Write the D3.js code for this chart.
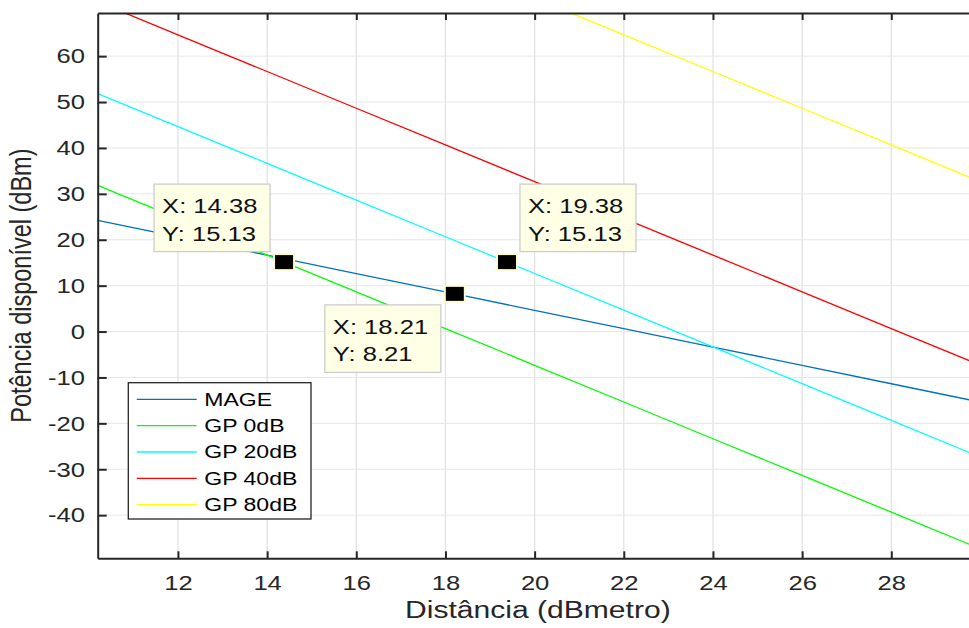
<!DOCTYPE html>
<html>
<head>
<meta charset="utf-8">
<script src="https://cdn.jsdelivr.net/npm/d3@7"></script>
<style>
  body { margin: 0; background: #fff; }
  svg text { font-family: "Liberation Sans", Arial, Helvetica, sans-serif; }
</style>
</head>
<body>
<svg id="chart" width="969" height="628"></svg>
<script>
// valores (distancia em dBmetro, potencia em dBm)
var distancia = [10.2, 12, 14, 16, 18, 20, 22, 24, 26, 28, 29.8];
var mage    = [24.23, 20.63, 16.63, 12.63, 8.63, 4.63, 0.63, -3.37, -7.37, -11.37, -14.97];
var gp0dB   = [31.85, 24.65, 16.65, 8.65, 0.65, -7.35, -15.35, -23.35, -31.35, -39.35, -46.55];
var gp20dB  = [51.85, 44.65, 36.65, 28.65, 20.65, 12.65, 4.65, -3.35, -11.35, -19.35, -26.55];
var gp40dB  = [71.85, 64.65, 56.65, 48.65, 40.65, 32.65, 24.65, 16.65, 8.65, 0.65, -6.55];
var gp80dB  = [111.85, 104.65, 96.65, 88.65, 80.65, 72.65, 64.65, 56.65, 48.65, 40.65, 33.45];

var seriesNames = ["MAGE", "GP 0dB", "GP 20dB", "GP 40dB", "GP 80dB"];
var seriesValues = [mage, gp0dB, gp20dB, gp40dB, gp80dB];
var seriesColors = ["#0072bd", "#00ff00", "#00ffff", "#ff0000", "#ffff00"];

var xTicks = [12, 14, 16, 18, 20, 22, 24, 26, 28];
var yTicks = [-40, -30, -20, -10, 0, 10, 20, 30, 40, 50, 60];

// data tips
var tipX = [14.38, 18.21, 19.38];
var tipY = [15.13, 8.21, 15.13];
var tipSide = ["up-left", "down-left", "up-right"];

var svg = d3.select("#chart");
var plotLeft = 97.7, plotRight = 972, plotTop = 13, plotBottom = 558.3;
var sx = 1.28; // o original esta esticado na horizontal
var axisColor = "#262626";

var x = d3.scaleLinear().domain([10.2, 29.81]).range([plotLeft, plotRight]);
var y = d3.scaleLinear().domain([-49.4, 69.4]).range([plotBottom, plotTop]);

// grade
var grid = svg.append("g").attr("class", "grid");
grid.selectAll("line.gx")
  .data(xTicks)
  .enter().append("line")
  .attr("class", "gx")
  .attr("x1", function (d) { return x(d); })
  .attr("x2", function (d) { return x(d); })
  .attr("y1", plotTop)
  .attr("y2", plotBottom)
  .attr("stroke", "#e2e2e2")
  .attr("stroke-width", 1.3);
grid.selectAll("line.gy")
  .data(yTicks)
  .enter().append("line")
  .attr("class", "gy")
  .attr("x1", plotLeft)
  .attr("x2", plotRight)
  .attr("y1", function (d) { return y(d); })
  .attr("y2", function (d) { return y(d); })
  .attr("stroke", "#e6e6e6")
  .attr("stroke-width", 1);

svg.append("clipPath")
  .attr("id", "clip")
  .append("rect")
  .attr("x", plotLeft)
  .attr("y", plotTop)
  .attr("width", plotRight - plotLeft)
  .attr("height", plotBottom - plotTop);

var line = d3.line()
  .x(function (d, i) { return x(distancia[i]); })
  .y(function (d) { return y(d); });

svg.append("g")
  .attr("clip-path", "url(#clip)")
  .selectAll("path")
  .data(seriesValues)
  .enter().append("path")
  .attr("d", line)
  .attr("fill", "none")
  .attr("stroke", function (d, i) { return seriesColors[i]; })
  .attr("stroke-width", 1.3);

// eixos
var fmt = function (d) { return String(d); };

var xAxis = svg.append("g")
  .attr("transform", "translate(0," + plotBottom + ")")
  .call(d3.axisBottom(x).tickValues(xTicks).tickFormat(fmt).tickSize(-7).tickSizeOuter(0).tickPadding(17.5));

var xAxisTop = svg.append("g")
  .attr("transform", "translate(0," + plotTop + ")")
  .call(d3.axisTop(x).tickValues(xTicks).tickFormat("").tickSize(-7).tickSizeOuter(0));

var yAxis = svg.append("g")
  .attr("transform", "translate(" + plotLeft + ",0)")
  .call(d3.axisLeft(y).tickValues(yTicks).tickFormat(fmt).tickSize(-9).tickSizeOuter(0));

[xAxis, xAxisTop, yAxis].forEach(function (g) {
  g.select(".domain").attr("stroke", axisColor).attr("stroke-width", 2);
  g.selectAll(".tick line").attr("stroke", axisColor).attr("stroke-width", 2);
  g.attr("font-family", null).attr("font-size", null);
});

xAxis.selectAll(".tick text")
  .attr("fill", axisColor)
  .style("font-size", "20px")
  .attr("transform", "scale(" + sx + ",1)");

yAxis.selectAll(".tick text")
  .attr("fill", axisColor)
  .style("font-size", "20px")
  .attr("x", -12.7 / sx)
  .attr("dy", "0.34em")
  .attr("transform", "scale(" + sx + ",1)");

// rotulos
svg.append("text")
  .attr("transform", "translate(" + ((plotLeft + plotRight) / 2 + 3) + ",618) scale(" + sx + ",1)")
  .attr("text-anchor", "middle")
  .attr("fill", axisColor)
  .style("font-size", "23.5px")
  .text("Distância (dBmetro)");

svg.append("text")
  .attr("transform", "translate(31," + ((plotTop + plotBottom) / 2) + ") scale(" + sx + ",1) rotate(-90)")
  .attr("text-anchor", "middle")
  .attr("fill", axisColor)
  .style("font-size", "23.5px")
  .text("Potência disponível (dBm)");

// data tips
var tips = svg.append("g").attr("class", "tips");
var boxW = 116, boxH = 67.5;
tipX.forEach(function (tx, i) {
  var px = x(tx), py = y(tipY[i]);
  var side = tipSide[i];
  var bx = side.indexOf("left") >= 0 ? px - 14 - boxW : px + 13;
  var by = side.indexOf("up") >= 0 ? py - 10.5 - boxH : py + 11;

  tips.append("rect")
    .attr("x", bx)
    .attr("y", by)
    .attr("width", boxW)
    .attr("height", boxH)
    .attr("fill", "#ffffe6")
    .attr("stroke", "#cdcdcd")
    .attr("stroke-width", 1.3);

  tips.append("text")
    .attr("transform", "translate(" + (bx + 8) + "," + (by + 29) + ") scale(" + sx + ",1)")
    .attr("fill", "#111")
    .style("font-size", "20px")
    .text("X: " + tx.toFixed(2));

  tips.append("text")
    .attr("transform", "translate(" + (bx + 8) + "," + (by + 56.5) + ") scale(" + sx + ",1)")
    .attr("fill", "#111")
    .style("font-size", "20px")
    .text("Y: " + tipY[i].toFixed(2));

  tips.append("rect")
    .attr("x", px - 10)
    .attr("y", py - 8)
    .attr("width", 20)
    .attr("height", 16)
    .attr("fill", "#000")
    .attr("stroke", "#fdfbd2")
    .attr("stroke-width", 2);
});

// legenda
var legend = svg.append("g")
  .attr("transform", "translate(128.3,382.7)");

legend.append("rect")
  .attr("width", 182.7)
  .attr("height", 136.3)
  .attr("fill", "#fff")
  .attr("stroke", axisColor)
  .attr("stroke-width", 1.3);

var item = legend.selectAll("g.item")
  .data(seriesNames)
  .enter().append("g")
  .attr("class", "item")
  .attr("transform", function (d, i) { return "translate(0," + (16.6 + i * 26.35) + ")"; });

item.append("line")
  .attr("x1", 8.4)
  .attr("x2", 68.4)
  .attr("stroke", function (d, i) { return seriesColors[i]; })
  .attr("stroke-width", 1.3);

item.append("text")
  .attr("transform", "translate(76,6.4) scale(" + sx + ",1)")
  .attr("fill", "#000")
  .style("font-size", "18px")
  .text(function (d) { return d; });
</script>
</body>
</html>
